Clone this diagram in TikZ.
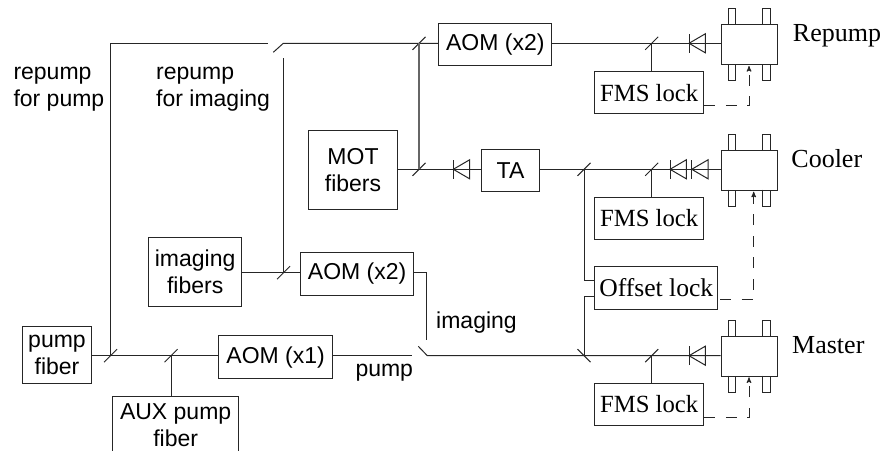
\documentclass[tikz,border=0pt]{standalone}
\usepackage{fontspec}
\setmainfont{Liberation Serif}
\setsansfont{Liberation Sans}
\usetikzlibrary{arrows,calc}
\tikzset{
    beamline/.style={line width=1pt,black!85},
    fiberbox/.style={draw,line width=1pt,black!85,text=black,font=\sffamily\fontsize{23}{27}\selectfont,align=center,inner sep=0pt,anchor=north west},
    lockbox/.style={fiberbox,font=\rmfamily\fontsize{24.7}{28}\selectfont},
    lasername/.style={font=\rmfamily\fontsize{26}{28}\selectfont,anchor=base west,inner sep=0pt},
    beamlabel/.style={font=\sffamily\fontsize{23}{27}\selectfont,align=left,anchor=base west,inner sep=0pt},
    servo/.style={line width=1pt,black!85,dash pattern=on 11pt off 10.5pt,->,>=stealth'},
}
\begin{document}
\begin{tikzpicture}[x=1pt,y=-1pt]
    \useasboundingbox (0,0) rectangle (883,450);
    \clip (0,0) rectangle (883,450);

    % lasers
    \node[fiberbox,minimum width=56.6pt,minimum height=39.7pt] (repump) at (720.7,24.3) {};
    \node[fiberbox,minimum width=56.6pt,minimum height=39.7pt] (cooler) at (720.7,150) {};
    \node[fiberbox,minimum width=56.6pt,minimum height=39.7pt] (master) at (720.7,336) {};
    \foreach \top in {24.3,150,336}{
        \foreach \left in {728,762.7}{
            \draw[beamline] (\left,\top) -- (\left,\top-15.4) -- (\left+7.6,\top-15.4) -- (\left+7.6,\top);
            \draw[beamline] (\left,\top+39.7) -- (\left,\top+56.3) -- (\left+7.6,\top+56.3) -- (\left+7.6,\top+39.7);
        }
    }
    \node[lasername] (repumpname) at (792.7,41.7) {Repump};
    \node[lasername] (coolername) at (791.2,167.5) {Cooler};
    \node[lasername] (mastername) at (792,353.5) {Master};

    % locks
    \node[lockbox,minimum width=109.3pt,minimum height=42.3pt] (fmsa) at (594,71) {FMS lock};
    \node[lockbox,minimum width=109.3pt,minimum height=42.3pt] (fmsb) at (594,196.7) {FMS lock};
    \node[lockbox,minimum width=109.3pt,minimum height=42.3pt] (fmsc) at (594,382.7) {FMS lock};
    \node[lockbox,font=\rmfamily\fontsize{25.6}{28}\selectfont,minimum width=123pt,minimum height=42.7pt] (offset) at (594.3,266) {Offset lock};

    % AOMs and fibers
    \node[fiberbox,minimum width=113pt,minimum height=42.6pt] (aomtop) at (438.3,22.7) {AOM (x2)};
    \node[fiberbox,minimum width=113.3pt,minimum height=42.7pt] (aomimg) at (300,252) {AOM (x2)};
    \node[fiberbox,minimum width=113.7pt,minimum height=43pt] (aompump) at (218.3,335.3) {AOM (x1)};
    \node[fiberbox,minimum width=57.4pt,minimum height=42.3pt] (ta) at (481.3,148.7) {TA};
    \node[fiberbox,minimum width=88.4pt,minimum height=79.3pt] (mot) at (308.3,130) {MOT\\fibers};
    \node[fiberbox,minimum width=93.3pt,minimum height=69.6pt] (imgfib) at (148,236.7) {imaging\\fibers};
    \node[fiberbox,minimum width=68.4pt,minimum height=57pt] (pumpfib) at (22.3,326.3) {pump\\fiber};
    \node[fiberbox,minimum width=125.7pt,minimum height=56.4pt] (aux) at (112.3,396.3) {AUX pump\\fiber};

    % labels
    \node[beamlabel] (lbla) at (13.3,106) {repump\\for pump};
    \node[beamlabel] (lblb) at (156,106) {repump\\for imaging};
    \node[beamlabel] (lblc) at (436,328.3) {imaging};
    \node[beamlabel] (lbld) at (355.3,376) {pump};

    % junctions
    \coordinate (tr) at (651.7,43.3);
    \coordinate (tc) at (651.7,169.3);
    \coordinate (tm) at (651.7,355.7);
    \coordinate (ju) at (419,43.3);
    \coordinate (jm) at (419,169.3);
    \coordinate (jo) at (584,169.3);
    \coordinate (jb) at (584,355.7);
    \coordinate (ji) at (283.5,272.7);
    \coordinate (jp) at (110.5,355.7);
    \coordinate (ja) at (171,355.7);
    \foreach \c in {tr,tc,tm,ju,jm,jo,ji,jp,ja}{
        \draw[beamline] ($(\c)+(-6.5,6.5)$) -- ($(\c)+(6.5,-6.5)$);
    }
    \draw[beamline] ($(jb)+(-6.5,-6.5)$) -- ($(jb)+(6.5,6.5)$);

    % beams
    \draw[beamline] (repump.west |- tr) -- (aomtop.east |- tr);
    \draw[beamline] (aomtop.west |- ju) -- (283.3,43.3) -- (273.3,52.3);
    \draw[beamline] (jp) -- (110.5,43.3) -- (267.7,43.3);
    \draw[beamline] (283.5,58.3) -- (ji);
    \draw[beamline] (imgfib.east |- ji) -- (aomimg.west |- ji);
    \draw[beamline,line width=1.3pt,black!60] (ju) -- (jm);
    \draw[beamline] (mot.east |- jm) -- (ta.west |- jm);
    \draw[beamline] (ta.east |- jm) -- (cooler.west |- jm);
    \draw[beamline] (tr) -- (fmsa.north -| tr);
    \draw[beamline] (tc) -- (fmsb.north -| tc);
    \draw[beamline] (tm) -- (fmsc.north -| tm);
    \draw[beamline] (jo) |- (offset.west |- 0,280);
    \draw[beamline] (offset.west |- 0,296) -| (jb);
    \draw[beamline] (master.west |- jb) -- (427.3,355.7) -- (418.3,346.3);
    \draw[beamline] (aomimg.east |- ji) -- (426.5,272.7) -- (426.5,340);
    \draw[beamline] (pumpfib.east |- jp) -- (aompump.west |- jp);
    \draw[beamline] (aompump.east |- jp) -- (411.7,355.7);
    \draw[beamline] (ja) -- (aux.north -| ja);

    % isolators
    \foreach \x/\y in {689/43.3,670/169.3,691.7/169.3,453.3/169.3,689/355.7}{
        \draw[beamline] (\x,\y+9.5) -- (\x,\y-9.5);
        \draw[beamline] (\x,\y) -- (\x+16.3,\y+9.5) -- (\x+16.3,\y-9.5) -- cycle;
    }

    % servo signals
    \draw[servo] (fmsa.east |- 0,105.7) -| (749,66);
    \draw[servo] (fmsc.east |- 0,417) -| (749,377.3);
    \draw[servo] (720,299) -| (753.7,191.7);
\end{tikzpicture}
\end{document}
